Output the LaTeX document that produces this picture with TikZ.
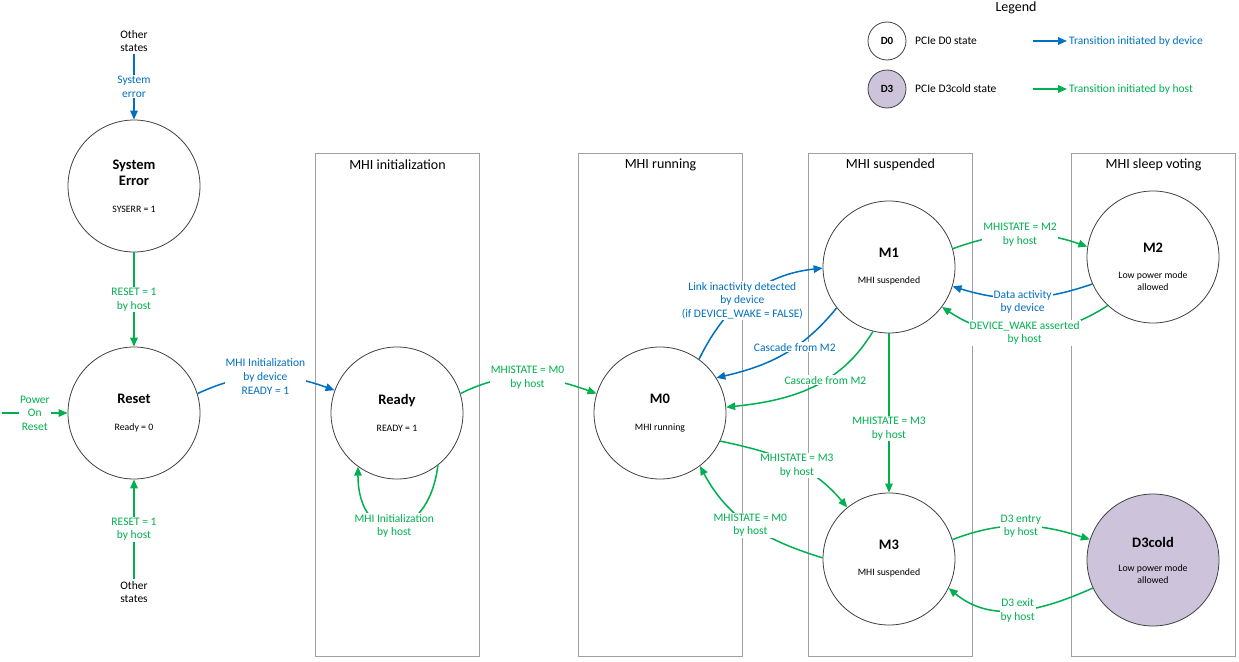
\documentclass[tikz,border=0pt]{standalone}
\usepackage{fontspec}
\setmainfont{Carlito}
\usepackage{tikz}
\usetikzlibrary{arrows.meta, positioning}

\definecolor{devblue}{RGB}{0,112,192}
\definecolor{hostgreen}{RGB}{0,176,80}
\definecolor{lanegray}{RGB}{160,160,160}
\definecolor{circgray}{RGB}{64,64,64}
\definecolor{dthree}{RGB}{205,196,220}

\newcommand{\stname}{\fontsize{14.5}{16}\selectfont\bfseries}

\begin{document}
\begin{tikzpicture}[x=1pt, y=1pt,
      st/.style={draw=circgray, line width=0.8pt, circle, fill=white, minimum size=132pt,
                 inner sep=0pt, align=center, font=\fontsize{9.8}{12}\selectfont},
      lgst/.style={draw=circgray, line width=0.8pt, circle, minimum size=38pt,
                   inner sep=0pt, font=\fontsize{11}{13}\selectfont\bfseries},
      lane/.style={draw=lanegray, line width=1pt, minimum width=164pt,
                   minimum height=503pt, anchor=north west, inner sep=0pt},
      lanettl/.style={font=\fontsize{14}{16}\selectfont},
      dev/.style={draw=devblue, line width=1.5pt, -{Triangle[length=9pt, width=7.5pt]}},
      host/.style={draw=hostgreen, line width=1.5pt, -{Triangle[length=9pt, width=7.5pt]}},
      lbl/.style={font=\fontsize{11.5}{13.6}\selectfont, align=center, fill=white, inner sep=1pt},
      dlbl/.style={lbl, text=devblue},
      hlbl/.style={lbl, text=hostgreen},
      txt/.style={font=\fontsize{11.5}{13.6}\selectfont, align=center, inner sep=2pt},
      lgtxt/.style={font=\fontsize{11.5}{13}\selectfont, inner sep=2pt}]

    \useasboundingbox (0,0) rectangle (1239,-661);

    % Lanes: one box per MHI phase, states sit inside;
    %        labels are filled white so they break the lane lines.

    % --- swim lanes ---
    \node[lane] (lninit)  at (315,-153)  {};
    \node[lane] (lnrun)   at (578,-153)  {};
    \node[lane] (lnsusp)  at (808,-153)  {};
    \node[lane] (lnsleep) at (1071,-153) {};
    \node[lanettl] at ([yshift=-12]lninit.north)  {MHI initialization};
    \node[lanettl] at ([yshift=-12]lnrun.north)   {MHI running};
    \node[lanettl] at ([yshift=-12]lnsusp.north)  {MHI suspended};
    \node[lanettl] at ([yshift=-12]lnsleep.north) {MHI sleep voting};

    % --- states ---
    \node[st] (syserr) at (134,-186) {\stname System\\[4pt]\stname Error\\[15pt]SYSERR = 1};
    \node[st] (reset)  at (134,-413) {\stname Reset\\[15pt]Ready = 0};
    \node[st] (ready)  at (397,-413) {\stname Ready\\[15pt]READY = 1};
    \node[st] (m0)     at (660,-413) {\stname M0\\[15pt]MHI running};
    \node[st] (m1)     at (889,-267) {\stname M1\\[14pt]MHI suspended};
    \node[st] (m2)     at (1153,-257) {\rule{0pt}{30pt}\stname M2\\[14pt]Low power mode\\allowed};
    \node[st] (m3)     at (889,-559) {\stname M3\\[14pt]MHI suspended};
    \node[st, fill=dthree] (d3) at (1153,-560) {\stname D3cold\\[12pt]Low power mode\\allowed};

    % outside the lanes
    \node[txt] (othtop) at (134,-41)  {Other\\states};
    \node[txt] (othbot) at (134,-592) {Other\\states};
    \coordinate (porin) at (2,-413);

    % ======= left column =======
    \draw[dev]  (othtop) -- node[dlbl] {System\\error} (syserr);
    \draw[host] (syserr) -- node[hlbl] {RESET = 1\\by host} (reset);
    \draw[host] (othbot) -- node[hlbl] {RESET = 1\\by host} (reset);
    \draw[host] (porin) -- node[hlbl] {Power\\On\\Reset} (reset);

    % ======= init / running =======
    \draw[dev] (reset.17) to[out=25, in=160]
        node[dlbl] {MHI Initialization\\by device\\READY = 1} (ready.160);
    \draw[host] (ready.17) to[out=27, in=160]
        node[hlbl] {MHISTATE = M0\\by host} (m0.163);
    % ready self-loop, label sits on the bottom of the loop
    \draw[host] (ready.-52) .. controls +(-97:80pt) and +(-90:80pt) .. (ready.-126)
        node[hlbl, pos=0.5] {MHI Initialization\\by host};

    % ======= M0 <-> M1 =======
    \draw[dev] (m0.54) to[out=64, in=186]
        node[dlbl, pos=0.45] {Link inactivity detected\\by device\\(if DEVICE\_WAKE = FALSE)} (m1.181);
    \draw[dev] (m1.218) to[out=231, in=13]
        node[dlbl, pos=0.4] {Cascade from M2} (m0.32);
    \draw[host] (m1.256) to[out=239, in=6]
        node[hlbl, pos=0.4] {Cascade from M2} (m0.5);

    % ======= M0 <-> M3 =======
    \draw[host] (m0.-25) to[out=-12, in=130]
        node[hlbl, pos=0.55] {MHISTATE = M3\\by host} (m3.129);
    \draw[host] (m3.179) to[out=163, in=-62]
        node[hlbl] {MHISTATE = M0\\by host} (m0.-53);
    \draw[host] (m1) -- node[hlbl, pos=0.6] {MHISTATE = M3\\by host} (m3);

    % ======= sleep voting =======
    \draw[host] (m1.16) to[out=20, in=161]
        node[hlbl] {MHISTATE = M2\\by host} (m2.171);
    \draw[dev] (m2.204) to[out=199, in=-17]
        node[dlbl, yshift=-4] {Data activity\\by device} (m1.-17);
    \draw[host] (m2.227) to[out=213, in=-34]
        node[hlbl] {DEVICE\_WAKE asserted\\by host} (m1.-37);
    \draw[host] (m3.17) to[out=21, in=162]
        node[hlbl] {D3 entry\\by host} (d3.162);
    \draw[host] (d3.205) to[out=204, in=-40]
        node[hlbl] {D3 exit\\by host} (m3.-26);

    % --- legend ---
    \node[font=\fontsize{14}{16}\selectfont] (lgtitle) at (1016,-8) {Legend};
    \node[lgst] (lgd0) at (887,-41) {D0};
    \node[lgst, fill=dthree] (lgd3) at (887,-89) {D3};
    \node[lgtxt, anchor=west] (lgd0txt) at (913,-41) {PCIe D0 state};
    \node[lgtxt, anchor=west] (lgd3txt) at (913,-89) {PCIe D3cold state};
    \coordinate (lgdev)  at (1033,-41);
    \coordinate (lghost) at (1033,-89);
    \node[lgtxt, anchor=west, text=devblue]   (lgdevtxt)  at (1067,-41) {Transition initiated by device};
    \node[lgtxt, anchor=west, text=hostgreen] (lghosttxt) at (1067,-89) {Transition initiated by host};
    \draw[dev]  (lgdev)  -- (lgdevtxt);
    \draw[host] (lghost) -- (lghosttxt);

\end{tikzpicture}
\end{document}
